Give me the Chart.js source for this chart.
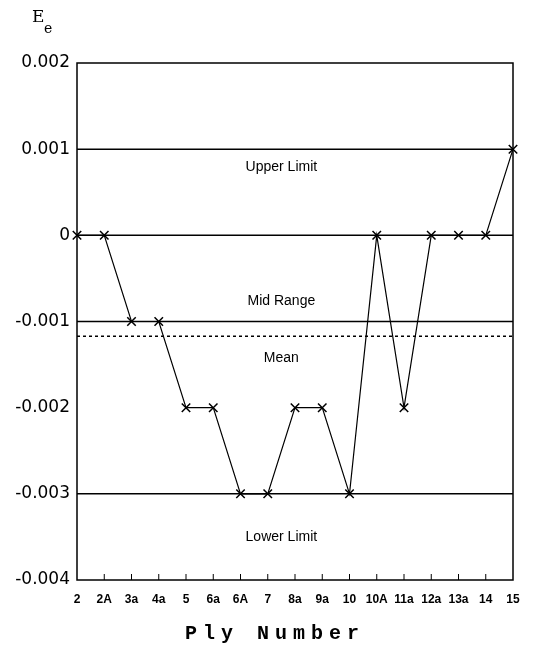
<!DOCTYPE html>
<html>
<head>
<meta charset="utf-8">
<script src="https://cdn.jsdelivr.net/npm/chart.js@4/dist/chart.umd.min.js"></script>
<style>
  html, body { margin: 0; padding: 0; background: #fff; }
  #wrap { width: 536px; height: 651px; }
</style>
</head>
<body>
<div id="wrap"><canvas id="c" width="536" height="651"></canvas></div>
<script>
// ply labels along the bottom
const plies = ['2', '2A', '3a', '4a', '5', '6a', '6A', '7', '8a', '9a', '10', '10A', '11a', '12a', '13a', '14', '15'];
// measured Ee per ply
const ee = [0, 0, -0.001, -0.001, -0.002, -0.002, -0.003, -0.003, -0.002, -0.002, -0.003, 0, -0.002, 0, 0, 0, 0.001];
// control lines
const upperLimit = 0.001;
const midRange = 0;
const meanValue = -0.00117;
const lowerLimit = -0.003;
const yTicks = [0.002, 0.001, 0, -0.001, -0.002, -0.003, -0.004];

const flat = v => plies.map(() => v);

const lineSet = (v, dash) => ({
  data: flat(v),
  borderColor: '#000',
  borderWidth: 1.5,
  borderDash: dash || [],
  pointRadius: 0,
  fill: false
});

// text labels, frame, inner ticks, axis titles
const decor = {
  id: 'decor',
  afterDatasetsDraw(chart) {
    const { ctx, chartArea: a, scales: { x, y } } = chart;
    ctx.save();
    ctx.strokeStyle = '#000';
    ctx.lineWidth = 1.5;
    ctx.strokeRect(a.left, a.top, a.right - a.left, a.bottom - a.top);

    // little ticks pointing up from the bottom edge
    ctx.lineWidth = 1;
    for (let i = 1; i < plies.length - 1; i++) {
      const px = x.getPixelForValue(i);
      ctx.beginPath();
      ctx.moveTo(px, a.bottom);
      ctx.lineTo(px, a.bottom - 6);
      ctx.stroke();
    }

    ctx.fillStyle = '#000';
    ctx.font = '14px "Liberation Sans", Arial, sans-serif';
    ctx.textAlign = 'center';
    ctx.textBaseline = 'middle';
    const cx = x.getPixelForValue(7.5);
    ctx.fillText('Upper Limit', cx, y.getPixelForValue(0.00079));
    ctx.fillText('Mid Range', cx, y.getPixelForValue(-0.00076));
    ctx.fillText('Mean', cx, y.getPixelForValue(-0.00142));
    ctx.fillText('Lower Limit', cx, y.getPixelForValue(-0.0035));

    // Ee
    ctx.font = '17px "DejaVu Serif", serif';
    ctx.textAlign = 'left';
    ctx.fillText('E', 32, 18);
    ctx.font = '14px "DejaVu Serif", serif';
    ctx.fillText('e', 44, 29);

    // x title
    ctx.font = 'bold 20px "Liberation Mono", "DejaVu Sans Mono", monospace';
    ctx.letterSpacing = '6px';
    ctx.textAlign = 'center';
    ctx.fillText('Ply Number', 275, 634);
    ctx.restore();
  }
};

new Chart(document.getElementById('c'), {
  type: 'line',
  data: {
    labels: plies,
    datasets: [
      {
        data: ee,
        borderColor: '#000',
        borderWidth: 1.2,
        pointStyle: 'crossRot',
        pointRadius: 6,
        pointBorderWidth: 1.5,
        pointBorderColor: '#000',
        fill: false
      },
      lineSet(upperLimit),
      lineSet(midRange),
      lineSet(lowerLimit),
      lineSet(-0.001),
      lineSet(meanValue, [3, 3])
    ]
  },
  options: {
    responsive: false,
    animation: false,
    layout: { padding: { left: 0, top: 63, right: 23, bottom: 0 } },
    plugins: { legend: { display: false }, tooltip: { enabled: false } },
    scales: {
      x: {
        offset: false,
        grid: { display: false, drawTicks: false },
        border: { display: false },
        ticks: {
          color: '#000',
          font: { size: 12, weight: 'bold', family: '"Liberation Sans", Arial, sans-serif' },
          maxRotation: 0,
          autoSkip: false,
          padding: 12
        },
        afterFit(s) { s.height = 71; }
      },
      y: {
        min: -0.004,
        max: 0.002,
        grid: { display: false, drawTicks: false },
        border: { display: false },
        afterBuildTicks(s) { s.ticks = yTicks.map(v => ({ value: v })); },
        ticks: {
          color: '#000',
          font: { size: 17, family: '"DejaVu Sans", sans-serif' },
          padding: 7,
          callback: v => (Math.abs(v) < 1e-9 ? '0' : v.toFixed(3))
        },
        afterFit(s) { s.width = 77; }
      }
    }
  },
  plugins: [decor]
});
</script>
</body>
</html>
